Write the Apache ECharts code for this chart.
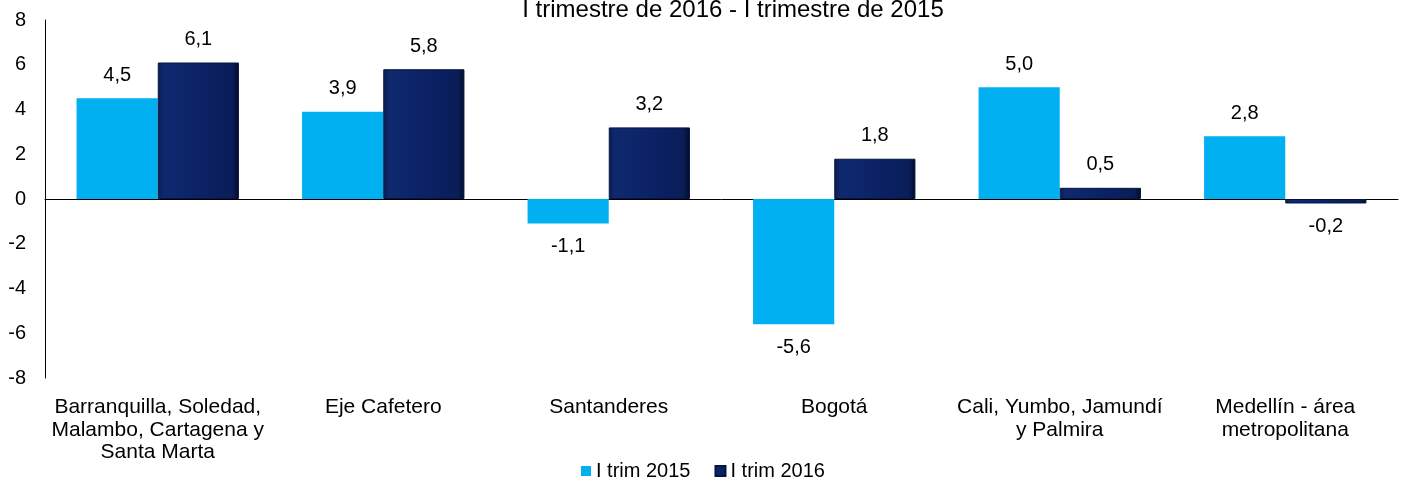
<!DOCTYPE html>
<html>
<head>
<meta charset="utf-8">
<script src="https://cdn.jsdelivr.net/npm/echarts@6/dist/echarts.min.js"></script>
<style>
html,body{margin:0;padding:0;background:#fff;}
#chart{width:1403px;height:481px;}
</style>
</head>
<body>
<div id="chart"></div>
<script>
var categories = [
    'Barranquilla, Soledad,\nMalambo, Cartagena y\nSanta Marta',
    'Eje Cafetero',
    'Santanderes',
    'Bogotá',
    'Cali, Yumbo, Jamundí\ny Palmira',
    'Medellín - área\nmetropolitana'
];
var trim2015 = [4.5, 3.9, -1.1, -5.6, 5.0, 2.8];
var trim2016 = [6.1, 5.8, 3.2, 1.8, 0.5, -0.2];
var seriesNames = ['I trim 2015', 'I trim 2016'];

var font = 'Liberation Sans, Arial, sans-serif';
var fmt = function(p){ return p.value.toFixed(1).replace('.', ','); };

var navy = new echarts.graphic.LinearGradient(0, 0, 1, 0, [
    {offset: 0, color: '#0a1d55'},
    {offset: 0.08, color: '#10296e'},
    {offset: 0.5, color: '#0b2266'},
    {offset: 0.92, color: '#0a1d58'},
    {offset: 1, color: '#040c26'}
]);

var option = {
    backgroundColor: '#fff',
    animation: false,
    title: {
        text: 'I trimestre de 2016 - I trimestre de 2015',
        left: 728,
        textAlign: 'center',
        top: -7,
        textStyle: {fontFamily: font, fontSize: 24, fontWeight: 'normal', color: '#000'}
    },
    legend: {
        bottom: -5,
        left: 576,
        itemWidth: 10,
        itemHeight: 10,
        itemGap: 24,
        icon: 'rect',
        textStyle: {fontFamily: font, fontSize: 20, color: '#000'},
        data: seriesNames
    },
    grid: {left: 45, right: 5, top: 20, bottom: 103},
    xAxis: {
        type: 'category',
        data: categories,
        axisLine: {onZero: true, lineStyle: {color: '#000', width: 1}},
        axisTick: {show: false},
        axisLabel: {show: false}
    },
    yAxis: {
        type: 'value',
        min: -8, max: 8, interval: 2,
        splitLine: {show: false},
        axisLine: {show: true, lineStyle: {color: '#000'}},
        axisTick: {show: false},
        axisLabel: {fontFamily: font, fontSize: 20, color: '#000', margin: 19}
    },
    series: [
        {
            name: seriesNames[0],
            type: 'bar',
            data: trim2015,
            barGap: '0%',
            barCategoryGap: '28%',
            itemStyle: {color: '#00b0f0'},
            label: {
                show: true, position: 'outside', formatter: fmt, distance: 13,
                fontFamily: font, fontSize: 20, color: '#000'
            }
        },
        {
            name: seriesNames[1],
            type: 'bar',
            data: trim2016,
            itemStyle: {color: navy, borderColor: '#061440', borderWidth: 1},
            label: {
                show: true, position: 'outside', formatter: fmt, distance: 13,
                fontFamily: font, fontSize: 20, color: '#000'
            }
        }
    ]
};

var chart = echarts.init(document.getElementById('chart'));
chart.setOption(option);

// category labels sit below the plot area, not at the zero line
chart.setOption({
    graphic: categories.map(function(c, i){
        var x = chart.convertToPixel({xAxisIndex: 0}, i);
        return {
            type: 'text', x: x, y: 396,
            style: {
                text: c, fill: '#000', font: '21px ' + font,
                textAlign: 'center', textVerticalAlign: 'top', lineHeight: 22.5
            }
        };
    })
});
</script>
</body>
</html>
